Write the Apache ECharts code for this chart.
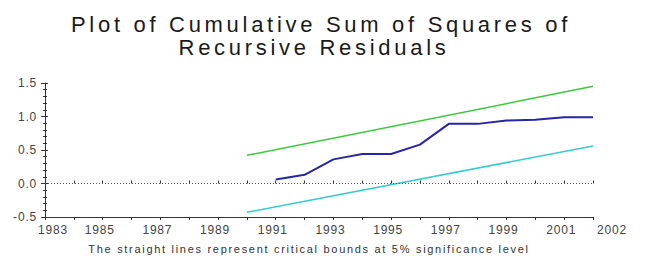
<!DOCTYPE html>
<html>
<head>
<meta charset="utf-8">
<script src="https://cdn.jsdelivr.net/npm/echarts@6/dist/echarts.min.js"></script>
<style>
html,body{margin:0;padding:0;background:#fff;}
#chart{width:646px;height:265px;}
#chart text[style*="22px"]{letter-spacing:3.7px;}
#chart text[style*="11px"]{letter-spacing:1.7px;}
#chart text[style*="12px"]{letter-spacing:0.8px;}
</style>
</head>
<body>
<div id="chart"></div>
<script>
// ---- data ----
const titleLine1 = 'Plot of Cumulative Sum of Squares of';
const titleLine2 = 'Recursive Residuals';
const footnote = 'The straight lines represent critical bounds at 5% significance level';

const cusumYears = [1991, 1992, 1993, 1994, 1995, 1996, 1997, 1998, 1999, 2000, 2001, 2002];
const cusumSq    = [0.06, 0.13, 0.36, 0.44, 0.44, 0.58, 0.89, 0.89, 0.94, 0.95, 0.99, 0.99];

const boundYears = [1990, 2002];
const upperBound = [0.42, 1.45];
const lowerBound = [-0.43, 0.56];

const xMin = 1983, xMax = 2002;
const yMin = -0.5, yMax = 1.5;
const xLabelYears = [1983, 1985, 1987, 1989, 1991, 1993, 1995, 1997, 1999, 2001, 2002];

const pairs = (xs, ys) => xs.map((x, i) => [x, ys[i]]);

const chart = echarts.init(document.getElementById('chart'), null, {renderer: 'svg'});
const FONT = 'Liberation Sans';
const axisColor = '#333';

const xAxisBase = {
  type: 'value', min: xMin, max: xMax, interval: 1, position: 'bottom',
  splitLine: {show: false},
  axisLine: {show: true, onZero: false, lineStyle: {color: axisColor, width: 1}}
};
const yAxisBase = {
  type: 'value', min: yMin, max: yMax, interval: 0.5, position: 'left',
  splitLine: {show: false},
  axisLine: {show: true, onZero: false, lineStyle: {color: axisColor, width: 1}}
};

chart.setOption({
  animation: false,
  backgroundColor: '#fff',
  grid: {left: 45, right: 53, top: 83, bottom: 48, containLabel: false},
  graphic: [
    {type: 'text', x: 321, y: 24, silent: true,
     style: {text: titleLine1, textAlign: 'center', textVerticalAlign: 'middle',
             font: 'normal 22px "' + FONT + '"', fill: '#1a1a1a'}},
    {type: 'text', x: 314, y: 47, silent: true,
     style: {text: titleLine2, textAlign: 'center', textVerticalAlign: 'middle',
             font: 'normal 22px "' + FONT + '"', fill: '#1a1a1a'}},
    {type: 'text', x: 309, y: 249, silent: true,
     style: {text: footnote, textAlign: 'center', textVerticalAlign: 'middle',
             font: 'normal 11px "' + FONT + '"', fill: '#333'}}
  ],
  xAxis: [
    Object.assign({}, xAxisBase, {
      axisTick: {show: true, inside: false, length: 3, lineStyle: {color: axisColor}},
      axisLabel: {
        show: true, margin: 7, fontFamily: FONT, fontSize: 12, color: '#444',
        showMinLabel: true, showMaxLabel: true,
        formatter: function (v) {
          const y = Math.round(v);
          if (xLabelYears.indexOf(y) < 0) return '';
          if (y === xMin) return '{first|' + y + '}';
          if (y === xMax) return '{last|' + y + '}';
          return '{mid|' + y + '}';
        },
        rich: {
          first: {fontFamily: FONT, fontSize: 12, color: '#444', padding: [0, 0, 0, 16]},
          last: {fontFamily: FONT, fontSize: 12, color: '#444', padding: [0, 0, 0, 38]},
          mid: {fontFamily: FONT, fontSize: 12, color: '#444', padding: [0, 6, 0, 0]}
        }
      }
    }),
    Object.assign({}, xAxisBase, {
      axisLine: {show: false},
      axisTick: {show: true, inside: true, length: 3, lineStyle: {color: axisColor}},
      axisLabel: {show: false}
    })
  ],
  yAxis: [
    Object.assign({}, yAxisBase, {
      axisTick: {show: true, inside: false, length: 4, lineStyle: {color: axisColor}},
      minorTick: {show: true, splitNumber: 5, length: 2, lineStyle: {color: axisColor}},
      axisLabel: {
        show: true, margin: 8, fontFamily: FONT, fontSize: 12, color: '#444',
        lineHeight: 8,
        formatter: v => v.toFixed(1)
      }
    }),
    Object.assign({}, yAxisBase, {
      axisLine: {show: false},
      axisTick: {show: true, inside: true, length: 3, lineStyle: {color: axisColor}},
      minorTick: {show: true, splitNumber: 5, length: 2, lineStyle: {color: axisColor}},
      axisLabel: {show: false}
    })
  ],
  series: [
    {
      name: 'Upper bound', type: 'line', xAxisIndex: 0, yAxisIndex: 0,
      data: pairs(boundYears, upperBound), showSymbol: false, symbol: 'none',
      lineStyle: {color: '#3cc83c', width: 1.5}
    },
    {
      name: 'Lower bound', type: 'line', xAxisIndex: 0, yAxisIndex: 0,
      data: pairs(boundYears, lowerBound), showSymbol: false, symbol: 'none',
      lineStyle: {color: '#34cccc', width: 1.5}
    },
    {
      name: 'CUSUM of squares', type: 'line', xAxisIndex: 0, yAxisIndex: 0,
      data: pairs(cusumYears, cusumSq), showSymbol: false, symbol: 'none',
      lineStyle: {color: '#2626a6', width: 2},
      markLine: {
        silent: true, symbol: 'none', label: {show: false},
        lineStyle: {color: '#555', type: [1, 2], width: 1},
        data: [{yAxis: 0}]
      }
    }
  ]
});
</script>
</body>
</html>
